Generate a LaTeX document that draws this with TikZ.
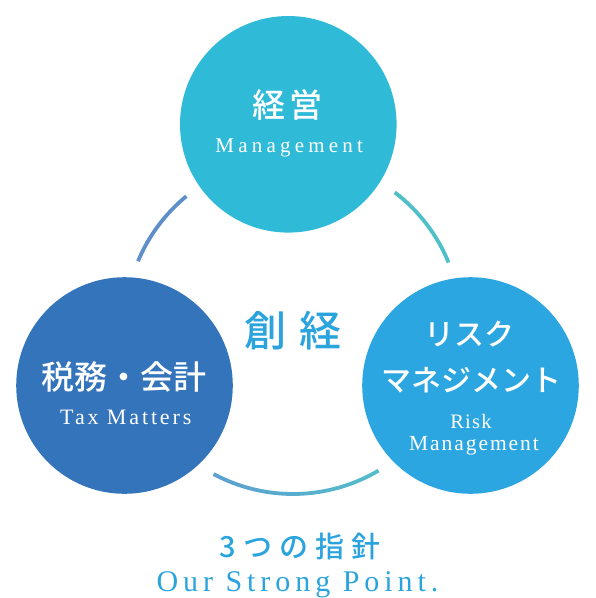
\documentclass[tikz,border=0pt]{standalone}
\usepackage{fontspec}
\setmainfont{Liberation Serif}
\newfontfamily\jp{Noto Sans CJK JP Medium}
\definecolor{cTop}{RGB}{47,187,216}
\definecolor{cLeft}{RGB}{52,116,186}
\definecolor{cRight}{RGB}{44,166,224}
\definecolor{cText}{RGB}{43,164,222}
\definecolor{cArcL}{RGB}{95,143,201}
\definecolor{cArcR}{RGB}{79,192,201}
\definecolor{cBotL}{RGB}{91,159,208}
\definecolor{cBotR}{RGB}{85,189,203}
\tikzset{
  bubble/.style={circle, minimum size=216.6pt, inner sep=0pt, draw=none},
  ring/.style={line width=3.8pt},
  lab/.style={anchor=base, text=white, inner sep=0pt},
  bluelab/.style={anchor=base, text=cText, inner sep=0pt},
}
\begin{document}
\begin{tikzpicture}[x=1pt,y=1pt]
\useasboundingbox (0,0) rectangle (596,-598);
% circles
\node[bubble, fill=cTop] (top) at (288.3,-124.3) {};
\node[bubble, fill=cLeft] (left) at (124.5,-385.5) {};
\node[bubble, fill=cRight] (right) at (470.5,-385.5) {};
% arcs
\coordinate (hub) at (293,-326);
\draw[ring, draw=cArcL] ([shift={(129.4:168pt)}]hub) arc[start angle=129.4, end angle=157.3, radius=168pt];
\draw[ring, draw=cArcR] ([shift={(22.2:168pt)}]hub) arc[start angle=22.2, end angle=52.7, radius=168pt];
\shade[left color=cBotL, right color=cBotR]
  ([shift={(241.8:169.9pt)}]hub) arc[start angle=241.8, end angle=300.6, radius=169.9pt]
  -- ([shift={(300.6:166.1pt)}]hub) arc[start angle=300.6, end angle=241.8, radius=166.1pt] -- cycle;
% texts top
\node[lab, font=\jp\fontsize{33}{33}\selectfont\addfontfeatures{LetterSpace=12}] (tj) at (287.5,-117.8) {経営};
\node[lab, font=\fontsize{21}{21}\selectfont\addfontfeatures{LetterSpace=20}] (te) at (289.2,-152.7) {Management};
% texts left
\node[lab, font=\jp\fontsize{33}{33}\selectfont] (lj) at (124.3,-389.2) {税務・会計};
\node[lab, font=\fontsize{22}{22}\selectfont\addfontfeatures{LetterSpace=13}] (le) at (125.8,-424) {Tax Matters};
% texts right
\node[lab, font=\jp\fontsize{30}{30}\selectfont] (rj1) at (469,-345.6) {リスク};
\node[lab, font=\jp\fontsize{30}{30}\selectfont] (rj2) at (471,-391.4) {マネジメント};
\node[lab, font=\fontsize{20.5}{20.5}\selectfont\addfontfeatures{LetterSpace=6}] (re1) at (471,-428.3) {Risk};
\node[lab, font=\fontsize{21.5}{21.5}\selectfont\addfontfeatures{LetterSpace=9}] (re2) at (474,-450) {Management};
% centre
\node[bluelab, font=\jp\fontsize{42}{42}\selectfont\addfontfeatures{LetterSpace=31}] (mid) at (293,-346.8) {創経};
% bottom
\node[bluelab, font=\jp\fontsize{29}{29}\selectfont\addfontfeatures{LetterSpace=24}] (bj) at (300,-557) {3つの指針};
\node[bluelab, font=\fontsize{30}{30}\selectfont\addfontfeatures{LetterSpace=16.5}] (be) at (297.5,-591.5) {Our Strong Point.};
\end{tikzpicture}
\end{document}
